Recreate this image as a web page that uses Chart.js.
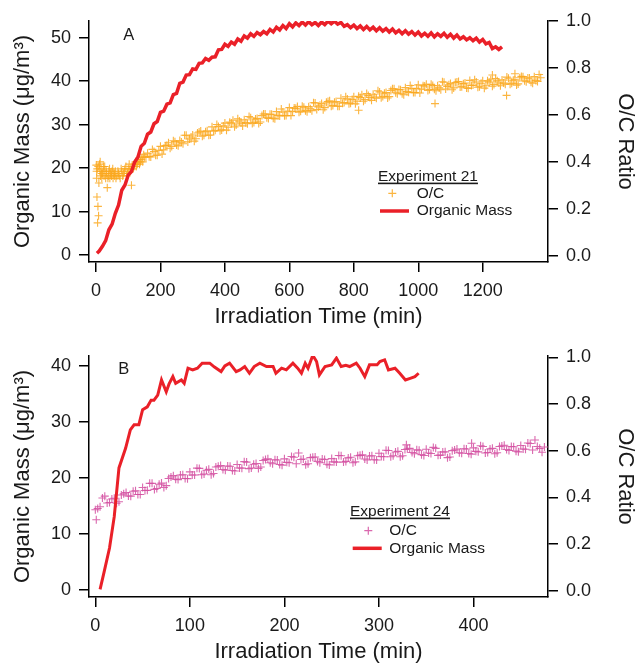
<!DOCTYPE html>
<html>
<head>
<meta charset="utf-8">
<script src="https://cdn.jsdelivr.net/npm/chart.js@4.4.1/dist/chart.umd.min.js"></script>
<style>
  body { margin: 0; background: #fff; }
  #wrap { position: relative; width: 637px; height: 665px; }
  canvas { position: absolute; left: 0; }
</style>
</head>
<body>
<div id="wrap">
  <canvas id="chartA" width="637" height="330" style="top:0"></canvas>
  <canvas id="chartB" width="637" height="335" style="top:330px"></canvas>
</div>
<script>
// tick labels
const xTicksA = [0, 200, 400, 600, 800, 1000, 1200]
const xTicksB = [0, 100, 200, 300, 400]
const massTicksA = [0, 10, 20, 30, 40, 50]
const massTicksB = [0, 10, 20, 30, 40]
const ocTicks = [0, 0.2, 0.4, 0.6, 0.8, 1.0]

// Experiment 21 - organic mass (ug/m3)
const massTimeA = [3,10,20,30,40,50,60,70,80,90,100,110,120,130,140,150,160,170,180,190,200,210,220,230,240,250,260,270,280,290,300,310,320,330,340,350,360,370,380,390,400,410,420,430,440,450,460,470,480,490,500,510,520,530,540,550,560,570,580,590,600,610,620,630,640,650,660,670,680,690,700,710,720,730,740,750,760,770,780,790,800,810,820,830,840,850,860,870,880,890,900,910,920,930,940,950,960,970,980,990,1000,1010,1020,1030,1040,1050,1060,1070,1080,1090,1100,1110,1120,1130,1140,1150,1160,1170,1180,1190,1200,1210,1220,1230,1240,1250,1260]
const massA = [0.4,0.9,2.0,3.3,5.8,7.1,9.6,11.5,14.9,16.1,
  18.4,19.2,21.4,22.5,25.0,25.7,27.8,28.3,30.2,30.7,
  32.8,33.1,34.7,35.0,36.9,37.2,39.5,39.8,41.4,41.5,
  42.8,42.7,44.1,44.2,45.2,44.8,45.5,45.6,47.2,47.3,
  48.5,48.0,49.0,48.5,49.7,49.2,50.4,49.9,50.9,50.3,
  51.2,50.7,51.4,50.9,51.9,51.3,52.4,51.8,52.8,52.1,
  53.2,52.5,53.4,52.8,53.6,52.9,53.7,53.0,53.5,52.8,
  53.6,53.0,53.8,53.2,53.8,53.1,53.5,52.6,53.0,52.3,
  52.9,52.1,52.7,51.9,52.6,51.8,52.4,51.6,52.3,51.5,
  52.1,51.3,52.0,51.1,51.7,50.9,51.6,50.8,51.4,50.6,
  51.3,50.4,51.0,50.3,51.1,50.2,50.9,50.3,51.0,50.1,
  50.8,49.9,50.6,49.7,50.2,49.5,50.0,49.3,49.9,49.0,
  49.6,48.6,48.9,47.5,47.9,47.3,47.9]

// Experiment 21 - O/C ratio (first pass of points)
const ocTimeA = [1,2,2,3,5,6,8,9,11,12,14,16,18,20,23,25,28,30,33,35,38,40,43,45,48,50,53,55,58,60,65,70,75,80,85,90,95,100,105,110,112,115,120,125,130,135,140,145,150,
  160,170,180,190,200,210,220,230,240,250,260,270,280,290,300,310,320,330,340,350,360,370,380,390,400,410,420,430,440,450,460,470,480,490,500,510,520,530,540,550,560,570,580,590,600,610,620,630,640,650,660,670,680,690,700,710,720,730,740,750,760,770,780,790,800,810,820,830,840,850,860,870,880,890,900,910,920,930,940,950,960,970,980,990,1000,1010,1020,1030,1040,1050,1060,1070,1080,1090,1100,1110,1120,1130,1140,1150,1160,1170,1180,1190,1200,1210,1220,1230,1240,1250,1260,1270,1280,1290,1300,1310,1320,1330,1340,1350,1360,1370,1380,
  815,1052,1274,1230,1300]
const ocA = [0.386,0.36,0.33,0.25,0.14,0.21,0.17,0.31,0.39,0.36,
  0.34,0.37,0.33,0.35,0.38,0.34,0.36,0.33,0.35,0.29,
  0.34,0.36,0.33,0.35,0.34,0.36,0.33,0.35,0.34,0.36,
  0.34,0.35,0.33,0.36,0.35,0.37,0.34,0.37,0.36,0.30,
  0.38,0.37,0.39,0.38,0.40,0.39,0.41,0.40,0.42,
  0.437,0.421,0.444,0.428,0.466,0.451,0.471,0.458,0.49,0.472,
  0.491,0.477,0.513,0.497,0.514,0.498,0.527,0.509,0.528,0.513,
  0.549,0.534,0.551,0.536,0.565,0.547,0.565,0.549,0.583,0.565,
  0.579,0.562,0.588,0.568,0.585,0.570,0.604,0.588,0.603,0.586,
  0.614,0.595,0.612,0.597,0.631,0.614,0.628,0.611,0.637,0.618,
  0.635,0.618,0.651,0.634,0.648,0.631,0.657,0.637,0.654,0.637,
  0.671,0.653,0.668,0.650,0.677,0.658,0.674,0.658,0.691,0.674,
  0.688,0.671,0.698,0.678,0.695,0.678,0.711,0.694,0.708,0.690,
  0.716,0.696,0.712,0.695,0.728,0.709,0.723,0.704,0.730,0.709,
  0.724,0.707,0.739,0.721,0.734,0.715,0.740,0.719,0.733,0.715,
  0.747,0.727,0.740,0.720,0.745,0.724,0.740,0.722,0.755,0.736,
  0.749,0.731,0.756,0.735,0.750,0.732,0.764,0.745,0.757,0.739,
  0.763,0.742,0.758,
  0.62,0.648,0.683,0.77,0.775]

// Experiment 21 - O/C ratio (in-between points)
const ocTimeA2 = [4,7,13,17,22,27,32,37,42,47,52,57,62,68,72,78,83,88,93,98,103,108,118,123,128,133,138,143,148,155,
  165,175,185,195,205,215,225,235,245,255,265,275,285,295,305,315,325,335,345,355,365,375,385,395,405,415,425,435,445,455,465,475,485,495,505,515,525,535,545,555,565,575,585,595,605,615,625,635,645,655,665,675,685,695,705,715,725,735,745,755,765,775,785,795,805,815,825,835,845,855,865,875,885,895,905,915,925,935,945,955,965,975,985,995,1005,1015,1025,1035,1045,1055,1065,1075,1085,1095,1105,1115,1125,1135,1145,1155,1165,1175,1185,1195,1205,1215,1225,1235,1245,1255,1265,1275,1285,1295,1305,1315,1325,1335,1345,1355,1365,1375]
const ocA2 = [0.37,0.38,0.40,0.35,0.36,0.38,0.36,0.33,0.37,0.35,
  0.37,0.35,0.33,0.36,0.34,0.37,0.34,0.36,0.38,0.35,
  0.39,0.37,0.38,0.40,0.39,0.41,0.40,0.42,0.43,0.42,
  0.422,0.453,0.428,0.449,0.433,0.469,0.481,0.465,0.486,0.468,
  0.484,0.513,0.485,0.506,0.488,0.523,0.531,0.513,0.532,0.514,
  0.530,0.559,0.532,0.553,0.535,0.569,0.577,0.557,0.574,0.553,
  0.567,0.593,0.563,0.582,0.563,0.597,0.604,0.585,0.603,0.583,
  0.598,0.625,0.596,0.616,0.597,0.629,0.636,0.615,0.633,0.613,
  0.626,0.652,0.623,0.641,0.622,0.654,0.660,0.640,0.657,0.637,
  0.650,0.677,0.647,0.666,0.647,0.679,0.686,0.665,0.683,0.662,
  0.676,0.703,0.673,0.692,0.672,0.704,0.711,0.690,0.707,0.686,
  0.699,0.725,0.695,0.713,0.693,0.724,0.730,0.708,0.725,0.703,
  0.715,0.741,0.710,0.728,0.707,0.738,0.742,0.720,0.736,0.713,
  0.725,0.750,0.718,0.735,0.714,0.745,0.750,0.729,0.745,0.724,
  0.736,0.761,0.731,0.748,0.727,0.758,0.763,0.741,0.757,0.735,
  0.747,0.772]

// Experiment 24 - organic mass (ug/m3)
const massTimeB = [5,9,15,20,25,32,37,41,46,50,55,59,62,66,70,75,78,82,85,91,94,98,103,108,113,121,126,133,137,142,149,153,158,163,168,174,181,188,191,197,202,209,214,218,222,225,230,234,237,243,250,255,260,265,269,276,280,285,290,298,301,306,310,317,322,328,333,338,342]
const massB = [0.1,3.0,7.5,13.1,21.8,25.3,28.6,29.5,29.5,32.2,
  32.7,33.9,33.9,34.8,37.5,35.4,36.8,38.1,36.9,37.5,
  36.9,39.6,39.3,39.6,40.5,40.5,39.8,39.0,40.0,40.5,
  39.0,39.3,39.9,38.7,39.9,40.5,39.9,39.9,38.7,39.6,
  39.3,40.5,39.6,38.7,40.5,39.6,41.9,40.8,38.4,39.9,
  40.2,41.4,39.9,40.1,39.9,40.5,39.6,38.1,40.2,40.2,
  40.8,41.1,39.3,39.6,38.7,37.5,37.8,38.1,38.7]

// Experiment 24 - O/C ratio (first pass of points)
const ocTimeB = [0,1,5,10,15,20,25,30,35,40,45,50,55,60,65,70,75,80,85,90,95,100,105,110,115,120,125,130,135,140,145,150,155,160,165,170,175,180,185,190,195,200,205,210,215,220,225,230,235,240,245,250,255,260,265,270,275,280,285,290,295,300,305,310,315,320,325,329,330,335,340,345,350,355,360,365,370,375,380,385,390,395,398,400,405,410,415,420,425,430,435,440,445,450,455,460,465,470,475]
const ocB = [0.347,0.304,0.36,0.405,0.378,0.396,0.381,0.415,0.406,0.426,
  0.412,0.442,0.43,0.46,0.438,0.461,0.45,0.487,0.478,0.496,
  0.481,0.509,0.496,0.524,0.5,0.52,0.502,0.533,0.519,0.534,
  0.515,0.541,0.525,0.551,0.526,0.545,0.53,0.562,0.548,0.561,
  0.541,0.565,0.548,0.572,0.59,0.564,0.544,0.572,0.554,0.564,
  0.542,0.566,0.551,0.578,0.554,0.572,0.552,0.58,0.564,0.577,
  0.561,0.589,0.574,0.601,0.578,0.597,0.578,0.625,0.607,0.592,
  0.604,0.583,0.606,0.588,0.61,0.581,0.595,0.573,0.603,0.591,
  0.608,0.588,0.632,0.612,0.595,0.618,0.592,0.61,0.591,0.62,
  0.605,0.618,0.598,0.622,0.606,0.631,0.646,0.61,0.616]

// Experiment 24 - O/C ratio (in-between points)
const ocTimeB2 = [2.5,7.5,12.5,17.5,22.5,27.5,32.5,37.5,42.5,47.5,52.5,57.5,62.5,67.5,72.5,77.5,82.5,87.5,92.5,97.5,102.5,107.5,112.5,117.5,122.5,127.5,132.5,137.5,142.5,147.5,152.5,157.5,162.5,167.5,172.5,177.5,182.5,187.5,192.5,197.5,202.5,207.5,212.5,217.5,222.5,227.5,232.5,237.5,242.5,247.5,252.5,257.5,262.5,267.5,272.5,277.5,282.5,287.5,292.5,297.5,302.5,307.5,312.5,317.5,322.5,327.5,332.5,337.5,342.5,347.5,352.5,357.5,362.5,367.5,372.5,377.5,382.5,387.5,392.5,397.5,402.5,407.5,412.5,417.5,422.5,427.5,432.5,437.5,442.5,447.5,452.5,457.5,462.5,467.5,472.5]
const ocB2 = [0.352,0.397,0.376,0.393,0.375,0.41,0.421,0.405,0.428,0.412,
  0.429,0.46,0.434,0.456,0.442,0.481,0.493,0.476,0.497,0.48,
  0.496,0.525,0.497,0.516,0.497,0.53,0.536,0.516,0.533,0.513,
  0.526,0.553,0.523,0.542,0.524,0.558,0.565,0.544,0.56,0.538,
  0.55,0.575,0.544,0.562,0.54,0.57,0.573,0.548,0.562,0.539,
  0.552,0.579,0.551,0.569,0.548,0.578,0.582,0.56,0.578,0.56,
  0.575,0.602,0.574,0.594,0.574,0.605,0.61,0.587,0.602,0.579,
  0.59,0.614,0.58,0.594,0.57,0.60,0.607,0.589,0.607,0.585,
  0.597,0.621,0.59,0.607,0.587,0.618,0.623,0.601,0.617,0.595,
  0.607,0.633,0.603,0.618,0.593]

const RED = 'rgb(234,32,40)'
const ORANGE = 'rgba(250,168,30,0.85)'
const PINK = 'rgba(212,78,160,0.85)'
const INK = '#1a1a1a'
const FONT = "'Liberation Sans', Arial, sans-serif"

Chart.defaults.font.family = FONT
Chart.defaults.color = INK

const pairs = (xs, ys) => xs.map((x, i) => ({ x: x, y: ys[i] }))

// legend box + panel letter, drawn on the canvas
const panelLegend = {
    id: 'panelLegend',
    afterDraw(chart, args, o) {
        const ctx = chart.ctx
        ctx.save()
        ctx.fillStyle = INK
        ctx.font = '16.5px ' + FONT
        ctx.textAlign = 'center'
        ctx.textBaseline = 'middle'
        ctx.fillText(o.letter, o.letterX, o.letterY)

        ctx.textAlign = 'left'
        ctx.textBaseline = 'alphabetic'
        ctx.font = '15.5px ' + FONT
        ctx.fillText(o.title, o.titleX, o.titleY)
        const w = ctx.measureText(o.title).width
        ctx.fillRect(o.titleX, o.titleY + 1.6, w, 1.6)

        ctx.strokeStyle = o.markColor
        ctx.lineWidth = 1.2
        ctx.beginPath()
        ctx.moveTo(o.markX - 4, o.markY)
        ctx.lineTo(o.markX + 4, o.markY)
        ctx.moveTo(o.markX, o.markY - 4)
        ctx.lineTo(o.markX, o.markY + 4)
        ctx.stroke()
        ctx.fillText('O/C', o.textX, o.ocY)

        ctx.strokeStyle = RED
        ctx.lineWidth = 3.5
        ctx.beginPath()
        ctx.moveTo(o.lineX0, o.lineY)
        ctx.lineTo(o.lineX1, o.lineY)
        ctx.stroke()
        ctx.fillText('Organic Mass', o.textX, o.massY)
        ctx.restore()
    }
}

function makeChart(id, cfg) {
    const axisTitle = { size: 22, lineHeight: 1.0 }
    const tickFont = { size: 18 }
    const grid = { display: true, drawOnChartArea: false, drawTicks: true, tickLength: 10, color: '#000', lineWidth: 1.5 }
    const border = { display: true, color: '#000', width: 1.5 }

    return new Chart(document.getElementById(id).getContext('2d'), {
        type: 'scatter',
        data: {
            datasets: [{
                label: 'Organic Mass',
                data: pairs(cfg.massTime, cfg.mass),
                yAxisID: 'yMass',
                showLine: true,
                borderColor: RED,
                borderWidth: cfg.lineWidth,
                pointRadius: 0,
                tension: 0
            }, {
                label: 'O/C',
                data: pairs(cfg.ocTime, cfg.oc),
                yAxisID: 'yOC',
                pointStyle: 'cross',
                pointRadius: 4,
                pointBorderWidth: 1.1,
                borderColor: cfg.ocColor,
                backgroundColor: cfg.ocColor
            }]
        },
        options: {
            responsive: false,
            animation: false,
            events: [],
            layout: { padding: { top: cfg.top, left: 0, right: 0, bottom: 0 } },
            plugins: {
                legend: { display: false },
                tooltip: { enabled: false },
                panelLegend: cfg.legend
            },
            scales: {
                x: {
                    type: 'linear',
                    position: 'bottom',
                    min: cfg.xMin,
                    max: cfg.xMax,
                    grid: grid,
                    border: border,
                    afterBuildTicks: s => { s.ticks = cfg.xTicks.map(v => ({ value: v })) },
                    afterFit: s => { s.height = cfg.xHeight },
                    ticks: { font: tickFont, padding: 8, maxRotation: 0, color: INK, callback: v => String(v) },
                    title: { display: true, text: 'Irradiation Time (min)', font: axisTitle, padding: { top: 0, bottom: 2 }, color: INK }
                },
                yMass: {
                    type: 'linear',
                    position: 'left',
                    min: cfg.massMin,
                    max: cfg.massMax,
                    grid: grid,
                    border: border,
                    afterBuildTicks: s => { s.ticks = cfg.massTicks.map(v => ({ value: v })) },
                    afterFit: s => { s.width = 89 },
                    ticks: { font: tickFont, padding: 8, color: INK, callback: v => String(v) },
                    title: { display: true, text: 'Organic Mass (μg/m³)', font: axisTitle, padding: { top: 12, bottom: 0 }, color: INK }
                },
                yOC: {
                    type: 'linear',
                    position: 'right',
                    min: cfg.ocMin,
                    max: cfg.ocMax,
                    grid: grid,
                    border: border,
                    afterBuildTicks: s => { s.ticks = ocTicks.map(v => ({ value: v })) },
                    afterFit: s => { s.width = 89 },
                    ticks: { font: tickFont, padding: 8, color: INK, callback: v => v.toFixed(1) },
                    title: { display: true, text: 'O/C Ratio', font: axisTitle, padding: { top: 1, bottom: 0 }, color: INK }
                }
            }
        },
        plugins: [panelLegend]
    })
}

makeChart('chartA', {
    massTime: massTimeA, mass: massA,
    ocTime: ocTimeA.concat(ocTimeA2), oc: ocA.concat(ocA2),
    ocColor: ORANGE, lineWidth: 3.5,
    xTicks: xTicksA, massTicks: massTicksA,
    xMin: -21.7, xMax: 1402.6,
    massMin: -1.61, massMax: 53.84,
    ocMin: -0.0268, ocMax: 1.0,
    top: 21, xHeight: 68,
    legend: {
        letter: 'A', letterX: 128.7, letterY: 35,
        title: 'Experiment 21', titleX: 378, titleY: 181,
        markColor: ORANGE, markX: 392.3, markY: 193.3,
        textX: 416.7, ocY: 197.7, massY: 215,
        lineX0: 380, lineX1: 409, lineY: 211
    }
})

makeChart('chartB', {
    massTime: massTimeB, mass: massB,
    ocTime: ocTimeB.concat(ocTimeB2), oc: ocB.concat(ocB2),
    ocColor: PINK, lineWidth: 3,
    xTicks: xTicksB, massTicks: massTicksB,
    xMin: -6.7, xMax: 478.8,
    massMin: -1.25, massMax: 41.78,
    ocMin: -0.027, ocMax: 1.0056,
    top: 26, xHeight: 68,
    legend: {
        letter: 'B', letterX: 123.7, letterY: 39.5,
        title: 'Experiment 24', titleX: 350, titleY: 186,
        markColor: PINK, markX: 368.3, markY: 200.7,
        textX: 389.3, ocY: 205, massY: 223.3,
        lineX0: 352.7, lineX1: 381.7, lineY: 218.3
    }
})
</script>
</body>
</html>
